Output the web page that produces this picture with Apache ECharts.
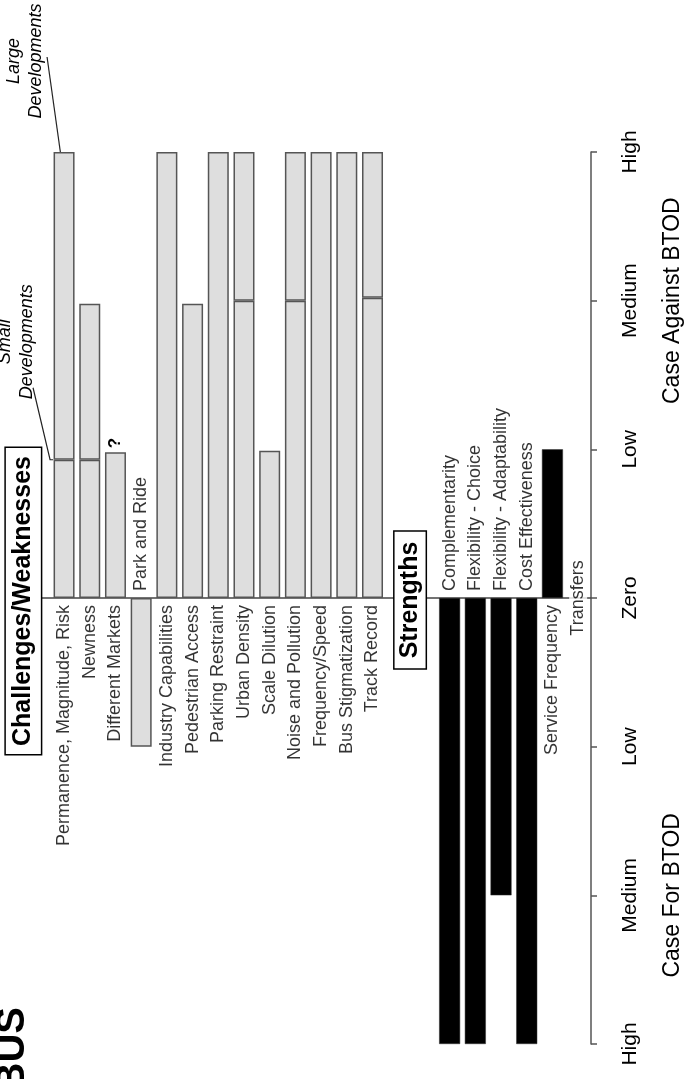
<!DOCTYPE html>
<html><head><meta charset="utf-8">
<script src="https://cdn.jsdelivr.net/npm/echarts@6/dist/echarts.min.js"></script>
<style>html,body{margin:0;padding:0;background:#fff;} #c{width:690px;height:1079px;}</style>
</head><body><div id="c"></div>
<script>
// ---- data ----
const categories = ['gap0', 'Permanence, Magnitude, Risk', 'Newness', 'Different Markets', 'Park and Ride',
  'Industry Capabilities', 'Pedestrian Access', 'Parking Restraint', 'Urban Density', 'Scale Dilution',
  'Noise and Pollution', 'Frequency/Speed', 'Bus Stigmatization', 'Track Record', 'gap1', 'gap2',
  'Complementarity', 'Flexibility - Choice', 'Flexibility - Adaptability', 'Cost Effectiveness',
  'Service Frequency', 'Transfers'];
// challenges: lower segment (small developments / base) and upper segment (large developments)
const challengeBase  = [null, 0.93, 0.93, 0.98, -1, 3, 1.98, 3, 2, 0.99, 2, 3, 3, 2.02, null, null, null, null, null, null, null, null];
const challengeUpper = [null, 2.07, 1.05, null, null, null, null, null, 1, null, 1, null, null, 0.98, null, null, null, null, null, null, null, null];
const strengths      = [null, null, null, null, null, null, null, null, null, null, null, null, null, null, null, null, -3, -3, -2, -3, 1, null];
const labelledCats   = categories.filter(c => !c.startsWith('gap'));
const tickLabels = ['High', 'Medium', 'Low', 'Zero', 'Low', 'Medium', 'High']; // values -3..3
const sideNameValues = [-2, 2];
const sideNames = ['Case For BTOD', 'Case Against BTOD'];
const questionCats = ['Different Markets'];

const FONT = 'Liberation Sans';
const chart = echarts.init(document.getElementById('c'), null, {renderer: 'canvas'});

function labelFor(cat) {
  const i = categories.indexOf(cat);
  const v = challengeBase[i] != null ? challengeBase[i] : strengths[i];
  const base = {show: true, rotate: 90, verticalAlign: 'middle', fontSize: 18, color: '#000', fontFamily: FONT, formatter: p => p.name};
  if (v == null) return Object.assign(base, {position: 'inside', align: 'center', backgroundColor: '#fff', padding: [0, 3]});
  if (v > 0) return Object.assign(base, {position: 'bottom', distance: 7, align: 'right'});
  return Object.assign(base, {position: 'top', distance: 7, align: 'left'});
}

const barStyleGrey = {color: '#dedede', borderColor: '#555', borderWidth: 1.5};
const option = {
  animation: false,
  backgroundColor: '#fff',
  textStyle: {fontFamily: FONT},
  grid: {left: 25.5, right: 99, top: 152, bottom: 35, containLabel: false, outerBoundsMode: 'none'},
  xAxis: {type: 'category', data: categories,
    axisLine: {onZero: true, lineStyle: {color: '#444', width: 1.5}},
    axisTick: {show: false}, axisLabel: {show: false}, splitLine: {show: false}},
  yAxis: [
    {type: 'value', position: 'right', min: -3, max: 3, interval: 1,
      axisLine: {show: true, lineStyle: {color: '#555', width: 1.5}},
      axisTick: {show: true, length: 6, lineStyle: {color: '#555', width: 1.5}},
      splitLine: {show: false},
      axisLabel: {rotate: 90, margin: 29, fontSize: 21, color: '#000', fontFamily: FONT,
        formatter: v => tickLabels[Math.round(v) + 3]}},
    {type: 'value', position: 'right', min: -3, max: 3, interval: 1,
      axisLine: {show: false}, axisTick: {show: false}, splitLine: {show: false},
      axisLabel: {rotate: 90, margin: 70, fontSize: 23, color: '#000', fontFamily: FONT,
        formatter: v => { const k = sideNameValues.indexOf(Math.round(v)); return k >= 0 ? sideNames[k] : ''; }}}
  ],
  series: [
    {name: 'Challenges/Weaknesses', type: 'bar', stack: 'all', barWidth: 21, itemStyle: barStyleGrey,
      data: challengeBase.map((v, i) => questionCats.includes(categories[i]) ? {value: v, label: {show: true, position: 'top', distance: 4, rotate: 90, align: 'left', verticalAlign: 'middle', formatter: '?', fontWeight: 'bold', fontSize: 17, color: '#000'}} : v)},
    {name: 'Large Developments', type: 'bar', stack: 'all', barWidth: 21, itemStyle: barStyleGrey, data: challengeUpper},
    {name: 'Strengths', type: 'bar', stack: 'all', barWidth: 21, itemStyle: {color: '#000', borderColor: '#333', borderWidth: 0.5}, data: strengths},
    {name: 'labels', type: 'scatter', symbolSize: 0, silent: true,
      data: labelledCats.map(c => ({name: c, value: [c, 0], label: labelFor(c)}))}
  ]
};
chart.setOption(option);

const px = (cat, v) => chart.convertToPixel({gridIndex: 0}, [cat, v]);
const permTop = px(categories[1], challengeBase[1] + challengeUpper[1]);
const permSplit = px(categories[1], challengeBase[1]);
const g0 = px('gap0', 0), g1 = px('gap1', 0), g2 = px('gap2', 0);
const lineStyle = {stroke: '#222', lineWidth: 1.2};
chart.setOption({graphic: [
  {type: 'text', x: g0[0] - 15, y: g0[1] + 3, rotation: Math.PI / 2, z: 10,
    style: {text: 'Challenges/Weaknesses', font: 'bold 25px "Liberation Sans"', fill: '#000', align: 'center', verticalAlign: 'middle',
      backgroundColor: '#fff', borderColor: '#000', borderWidth: 1.5, padding: [6, 8, 4, 8]}},
  {type: 'text', x: (g1[0] + g2[0]) / 2 - 1, y: g1[1] + 2, rotation: Math.PI / 2, z: 10,
    style: {text: 'Strengths', font: 'bold 25px "Liberation Sans"', fill: '#000', align: 'center', verticalAlign: 'middle',
      backgroundColor: '#fff', borderColor: '#000', borderWidth: 1.5, padding: [4, 10, 2, 10]}},
  {type: 'text', x: 13, y: 1007, rotation: Math.PI / 2,
    style: {text: 'BUS', font: 'bold 40px "Liberation Sans"', fill: '#000', align: 'right', verticalAlign: 'middle'}},
  {type: 'text', x: permTop[0] - 39, y: permTop[1] - 91, rotation: Math.PI / 2,
    style: {text: 'Large\nDevelopments', font: 'italic 18px "Liberation Sans"', lineHeight: 22, fill: '#000', align: 'center', verticalAlign: 'middle'}},
  {type: 'polyline', shape: {points: [[permTop[0] - 17, permTop[1] - 95], [permTop[0] - 3, permTop[1] + 5]]}, style: lineStyle},
  {type: 'text', x: permSplit[0] - 48, y: permSplit[1] - 118, rotation: Math.PI / 2,
    style: {text: 'Small\nDevelopments', font: 'italic 18px "Liberation Sans"', lineHeight: 22, fill: '#000', align: 'center', verticalAlign: 'middle'}},
  {type: 'polyline', shape: {points: [[permSplit[0] - 31, permSplit[1] - 72], [permSplit[0] - 14, permSplit[1]], [permSplit[0] - 11, permSplit[1]]]}, style: lineStyle}
]});
</script></body></html>
